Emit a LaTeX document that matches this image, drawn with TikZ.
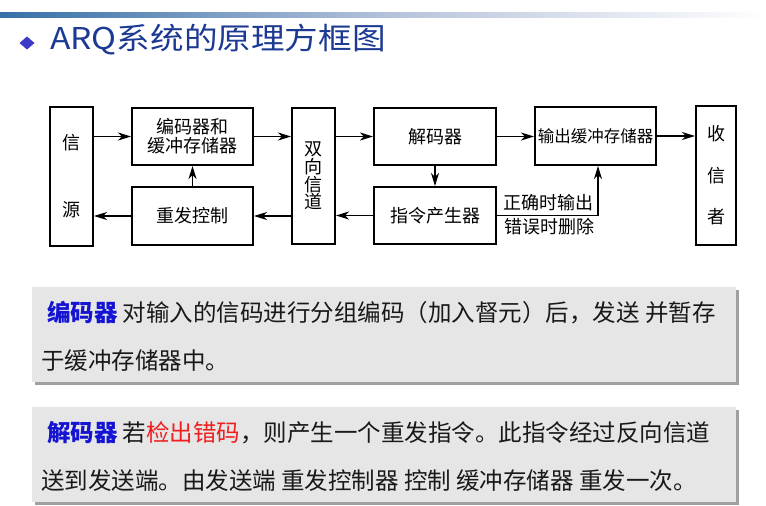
\documentclass[tikz,border=0pt]{standalone}
\usepackage{fontspec}
\setmainfont{Noto Sans CJK SC}
\newfontfamily\titlefont[FakeStretch=1.12]{Noto Sans CJK SC}
\usetikzlibrary{arrows.meta}
\definecolor{barblue}{RGB}{54,112,168}
\definecolor{barmid}{RGB}{184,196,220}
\definecolor{titleblue}{RGB}{28,58,148}
\definecolor{dotblue}{RGB}{60,56,200}
\definecolor{panelgray}{RGB}{230,230,230}
\definecolor{shadowgray}{RGB}{160,160,160}
\definecolor{keyblue}{RGB}{20,20,210}
\definecolor{keyred}{RGB}{240,30,30}
\begin{document}
\begin{tikzpicture}[x=1pt, y=-1pt,
		blk/.style={draw, line width=2pt, inner sep=0pt, align=center, font=\fontsize{18}{17.7}\selectfont},
		arr/.style={line width=1.4pt, -{Stealth[length=13pt,width=8pt,inset=4pt]}},
		lbl/.style={inner sep=0pt, font=\fontsize{18}{18}\selectfont},
		note/.style={anchor=west, inner sep=0pt, text=black!90, font=\fontsize{23.5}{24}\selectfont}]
		\useasboundingbox (0,0) rectangle (766,506);
		\fill [white] (0,0) rectangle (766,506);
		\shade [left color=barblue, right color=barmid] (0,12) rectangle (400,17);
		\shade [left color=barmid, right color=white] (400,12) rectangle (766,17);
		\fill [dotblue] (27,36.5) -- (34.5,43) -- (27,49.5) -- (19.5,43) -- cycle;
		\node [anchor=west, inner sep=0pt, text=titleblue, font=\titlefont\fontsize{30}{30}\selectfont] (title) at (50,40) {ARQ系统的原理方框图};
		\node [blk, minimum width=43pt, minimum height=139pt] (src) at (71.5,176.5) {信\\[49.3pt]源};
		\node [blk, minimum width=121pt, minimum height=57pt] (enc) at (192.5,136.5) {编码器和\\[1.3pt]缓冲存储器};
		\node [blk, minimum width=121pt, minimum height=58pt] (rtx) at (192.5,216) {重发控制};
		\node [blk, minimum width=43pt, minimum height=136pt] (chan) at (313.5,176) {双\\向\\信\\道};
		\node [blk, minimum width=122pt, minimum height=57pt] (dec) at (435,136.5) {解码器};
		\node [blk, minimum width=122pt, minimum height=57pt] (cmd) at (435,215.5) {指令产生器};
		\node [blk, minimum width=121pt, minimum height=58pt, font=\fontsize{16.5}{17}\selectfont] (obuf) at (595.5,136) {输出缓冲存储器};
		\node [blk, minimum width=40pt, minimum height=139pt] (sink) at (716,175.5) {收\\[23.8pt]信\\[23.8pt]者};
		\node [lbl] (okout) at (548,203) {正确时输出};
		\node [lbl] (errdel) at (549,227) {错误时删除};
		\draw [arr] (src.east |- enc.west) -- (enc.west);
		\draw [arr] (enc.east) -- (enc.east -| chan.west);
		\draw [arr] (chan.east |- dec.west) -- (dec.west);
		\draw [arr] (dec.east) -- (dec.east -| obuf.west);
		\draw [arr] (obuf.east) -- (obuf.east -| sink.west);
		\draw [arr] (rtx.west) -- (rtx.west -| src.east);
		\draw [arr] (chan.west |- rtx.east) -- (rtx.east);
		\draw [arr] (cmd.west) -- (cmd.west -| chan.east);
		\draw [arr] (rtx.north) -- (enc.south);
		\draw [arr] (dec.south) -- (cmd.north);
		\draw [arr] (cmd.east) -| ([xshift=2.5pt]obuf.south);
		\fill [shadowgray] (35,290) rectangle (739,385);
		\fill [panelgray] (32,287) rectangle (736,382);
		\fill [shadowgray] (35,410) rectangle (739,505);
		\fill [panelgray] (32,407) rectangle (736,502);
		\node [note] (encnote) at (47,313) {{\color{keyblue}\bfseries 编码器} 对输入的信码进行分组编码（加入督元）后，发送 并暂存};
		\node [note] (encnotb) at (41,361) {于缓冲存储器中。};
		\node [note] (decnote) at (47,433) {{\color{keyblue}\bfseries 解码器} 若{\color{keyred}检出错码}，则产生一个重发指令。此指令经过反向信道};
		\node [note] (decnotb) at (41,481) {送到发送端。由发送端 重发控制器 控制 缓冲存储器 重发一次。};
	\end{tikzpicture}
\end{document}
